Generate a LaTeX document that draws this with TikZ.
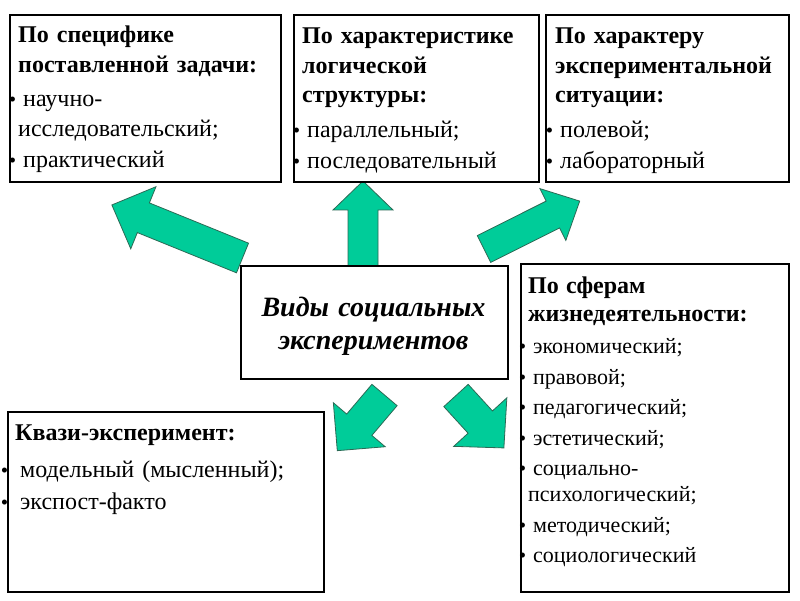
\documentclass[tikz,border=0pt]{standalone}
\usepackage{fontspec}
\setmainfont{Liberation Serif}
\definecolor{arrowgreen}{HTML}{00CC99}
\definecolor{arrowedge}{HTML}{2B6A55}
\newcommand\blt[1][2pt]{\leavevmode\llap{{\fontsize{21}{21}\selectfont •}\hspace{#1}}\hspace{5pt}}
\tikzset{
  arrowfill/.style={fill=arrowgreen, draw=arrowedge, line width=0.8pt, line join=miter},
  pics/barrow/.style args={#1/#2/#3/#4}{code={
    \filldraw[arrowfill] (0,-#2) -- ({#1-#4},-#2) -- ({#1-#4},-#3) -- (#1,0)
      -- ({#1-#4},#3) -- ({#1-#4},#2) -- (0,#2) -- cycle;
  }},
  box/.style={draw=black, line width=1.8pt, fill=white, inner sep=0pt, anchor=south west},
  txt/.style={inner sep=0pt, anchor=base west, align=left, text width=300pt,
    font=\fontsize{24}{29.5}\selectfont},
  rtxt/.style={txt, font=\fontsize{22}{26}\selectfont},
  ctxt/.style={inner sep=0pt, anchor=base, align=center, text width=260pt,
    font=\fontsize{28}{33}\selectfont\bfseries\itshape}
}
\begin{document}
\begin{tikzpicture}[x=1pt,y=1pt]
\fill[white] (0,0) rectangle (800,600);
\useasboundingbox (0,0) rectangle (800,600);

% block arrows
\pic[rotate=157.9] at (242.5,342) {barrow=141/16/33.5/34};
\pic[rotate=90] at (363,333) {barrow=86/15/30/29};
\pic[rotate=26.6] at (484,351) {barrow=107/15/29/30};
\pic[rotate=229.7] at (384.5,205) {barrow=73/16.5/34/34};
\pic[rotate=-47.6] at (456,204.5) {barrow=71/16.5/36/35};

% boxes
\node[box, minimum width=271pt, minimum height=167pt] (b1) at (9,417) {};
\node[box, minimum width=245pt, minimum height=167pt] (b2) at (293,417) {};
\node[box, minimum width=243pt, minimum height=167pt] (b3) at (545,417) {};
\node[box, minimum width=267pt, minimum height=113pt] (bc) at (240,220) {};
\node[box, minimum width=268pt, minimum height=328pt] (b4) at (520,7) {};
\node[box, minimum width=316pt, minimum height=180pt] (b5) at (7,7) {};

% texts
\node[txt] (t1) at (18,557) {\textbf{По специфике}\\
\textbf{поставленной задачи:}\\[5pt]
\blt научно-\\
исследовательский;\\[2pt]
\blt практический};

\node[txt] (t2) at (302,556) {\textbf{По характеристике}\\
\textbf{логической}\\
\textbf{структуры:}\\[5pt]
\blt параллельный;\\[2pt]
\blt последовательный};

\node[txt] (t3) at (555,556) {\textbf{По характеру}\\
\textbf{экспериментальной}\\
\textbf{ситуации:}\\[5pt]
\blt полевой;\\[2pt]
\blt лабораторный};

\node[rtxt] (t4) at (528,306) {{\fontsize{24}{26}\selectfont\bfseries По сферам}\\[2pt]
{\fontsize{24}{26}\selectfont\bfseries жизнедеятельности:}\\[6pt]
\blt экономический;\\[4.5pt]
\blt правовой;\\[4.5pt]
\blt педагогический;\\[4.5pt]
\blt эстетический;\\[4.5pt]
\blt социально-\\
психологический;\\[4.5pt]
\blt методический;\\[4.5pt]
\blt социологический};

\node[txt] (t5) at (15,160) {\textbf{Квази-эксперимент:}\\[8pt]
\blt[7pt]модельный (мысленный);\\[2pt]
\blt[7pt]экспост-факто};

\node[ctxt] (tc) at (373.5,283) {Виды социальных\\экспериментов};
\end{tikzpicture}
\end{document}
